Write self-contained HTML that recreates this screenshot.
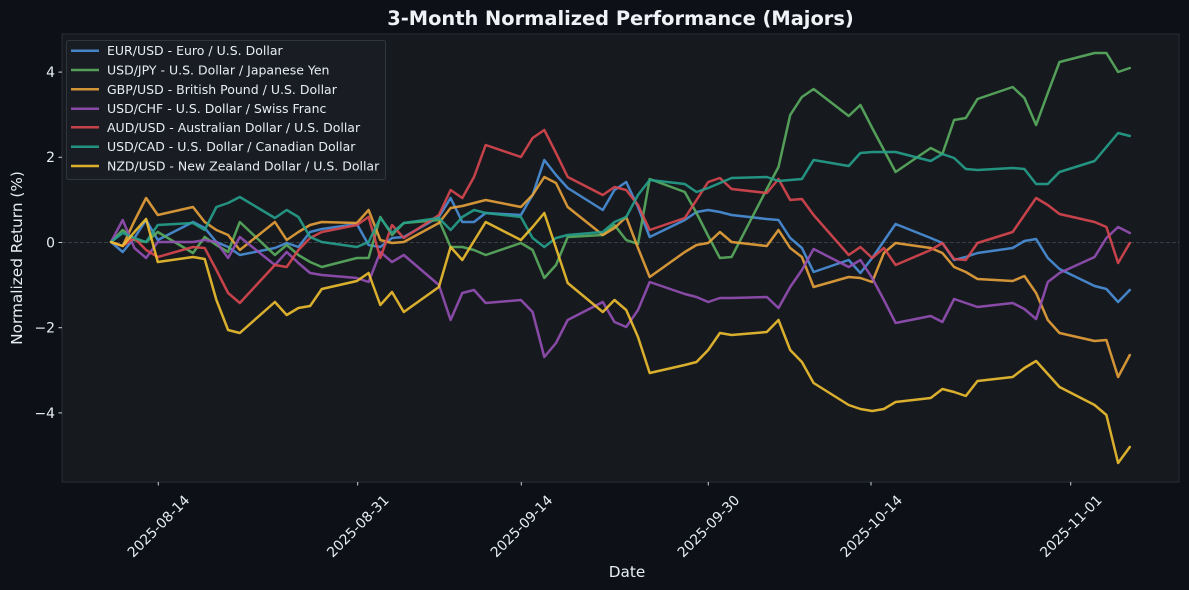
<!DOCTYPE html>
<html>
<head>
<meta charset="utf-8">
<style>
  html, body { margin:0; padding:0; background:#0d1117; }
  body { width:1189px; height:590px; overflow:hidden; }
  svg { display:block; }
  text { font-family: "DejaVu Sans", "Liberation Sans", sans-serif; }
</style>
</head>
<body>
<svg width="1189" height="590" viewBox="0 0 1189 590" xmlns="http://www.w3.org/2000/svg">
  <rect x="0" y="0" width="1189" height="590" fill="#0d1117"/>
  <!-- plot area -->
  <rect x="62" y="34" width="1117" height="448" fill="#161a1f" stroke="#2a2f36" stroke-width="1"/>

  <!-- title -->
  <text x="620.5" y="25" text-anchor="middle" font-size="19.4" font-weight="bold" fill="#f0f3f6">3-Month Normalized Performance (Majors)</text>

  <!-- zero line -->
  <line x1="62" y1="242.5" x2="1179" y2="242.5" stroke="#8b949e" stroke-opacity="0.3" stroke-width="1" stroke-dasharray="4,2"/>

  <!-- y ticks -->
  <g stroke="#c9d1d9" stroke-width="1">
    <line x1="58.5" y1="72.1" x2="62" y2="72.1"/>
    <line x1="58.5" y1="157.3" x2="62" y2="157.3"/>
    <line x1="58.5" y1="242.5" x2="62" y2="242.5"/>
    <line x1="58.5" y1="327.7" x2="62" y2="327.7"/>
    <line x1="58.5" y1="412.9" x2="62" y2="412.9"/>
  </g>
  <g font-size="13.9" fill="#e6edf3" text-anchor="end">
    <text x="55" y="77">4</text>
    <text x="55" y="162.2">2</text>
    <text x="55" y="247.4">0</text>
    <text x="55" y="332.6">−2</text>
    <text x="55" y="417.8">−4</text>
  </g>

  <!-- x ticks -->
  <g stroke="#c9d1d9" stroke-width="1">
    <line x1="158.3" y1="482" x2="158.3" y2="485.5"/>
    <line x1="357.7" y1="482" x2="357.7" y2="485.5"/>
    <line x1="521.3" y1="482" x2="521.3" y2="485.5"/>
    <line x1="708.3" y1="482" x2="708.3" y2="485.5"/>
    <line x1="871" y1="482" x2="871" y2="485.5"/>
    <line x1="1070.7" y1="482" x2="1070.7" y2="485.5"/>
  </g>
  <g font-size="13.9" fill="#e6edf3" text-anchor="middle">
    <text x="158.3" y="531" transform="rotate(-45 158.3 526)">2025-08-14</text>
    <text x="357.7" y="531" transform="rotate(-45 357.7 526)">2025-08-31</text>
    <text x="521.3" y="531" transform="rotate(-45 521.3 526)">2025-09-14</text>
    <text x="708.3" y="531" transform="rotate(-45 708.3 526)">2025-09-30</text>
    <text x="871" y="531" transform="rotate(-45 871 526)">2025-10-14</text>
    <text x="1070.7" y="531" transform="rotate(-45 1070.7 526)">2025-11-01</text>
  </g>

  <!-- axis labels -->
  <text x="627" y="577" text-anchor="middle" font-size="15.3" fill="#e6edf3">Date</text>
  <text x="22" y="258" text-anchor="middle" font-size="15.3" fill="#e6edf3" transform="rotate(-90 22 258)">Normalized Return (%)</text>

  <!-- series -->
  <g fill="none" stroke-width="2.5" stroke-linejoin="round" stroke-linecap="round" stroke-opacity="0.9">
    <polyline stroke="#4a90d9" points="111,242 122.7,252 134.4,238 146.1,220 157.8,240 193,222 204.7,228 216.4,242 228.1,247 239.8,255 274.9,248 286.7,243 298.4,247 310.1,232 321.8,229 356.9,224 368.6,245 380.3,247 392,238 403.8,237 438.9,217 450.6,198 462.3,222 474,222 485.7,213 520.9,215 532.6,195 544.3,160 556,175 567.7,188 602.8,210 614.5,190 626.2,182 638,207 649.7,237 684.8,220 696.5,212 708.2,210 719.9,212 731.6,215 766.8,219 778.5,220 790.2,238 801.9,248 813.6,272 848.7,260 860.4,273 872.2,258 883.9,241 895.6,224 930.7,238 942.4,243 954.1,260 965.8,257 977.5,253 1012.7,248 1024.4,241 1036.1,239 1047.8,258 1059.5,269 1094.6,286 1106.4,289 1118.1,302 1129.8,290"/>
    <polyline stroke="#5aad5e" points="111,242 122.7,230 134.4,240 146.1,242 157.8,232 193,253 204.7,237 216.4,245 228.1,252 239.8,222 274.9,255 286.7,245 298.4,255 310.1,262 321.8,267 356.9,258 368.6,258 380.3,217 392,235 403.8,223 438.9,220 450.6,247 462.3,247 474,250 485.7,255 520.9,243 532.6,250 544.3,278 556,265 567.7,237 602.8,235 614.5,225 626.2,240 638,244 649.7,179 684.8,192 696.5,213 708.2,236 719.9,258 731.6,257 766.8,189 778.5,167 790.2,115 801.9,97 813.6,89 848.7,116 860.4,105 872.2,128 883.9,150 895.6,172 930.7,148 942.4,154 954.1,120 965.8,118 977.5,99 1012.7,87 1024.4,98 1036.1,125 1047.8,93 1059.5,62 1094.6,53 1106.4,53 1118.1,72 1129.8,68"/>
    <polyline stroke="#e8a23a" points="111,242 122.7,246 134.4,221 146.1,198 157.8,215 193,207 204.7,222 216.4,230 228.1,235 239.8,250 274.9,222 286.7,240 298.4,232 310.1,225 321.8,222 356.9,223 368.6,210 380.3,240 392,243 403.8,242 438.9,223 450.6,208 462.3,206 474,203 485.7,200 520.9,207 532.6,195 544.3,177 556,183 567.7,207 602.8,235 614.5,228 626.2,217 638,248 649.7,277 684.8,252 696.5,245 708.2,243 719.9,232 731.6,242 766.8,246 778.5,230 790.2,248 801.9,257 813.6,287 848.7,277 860.4,278 872.2,282 883.9,253 895.6,243 930.7,248 942.4,253 954.1,267 965.8,272 977.5,279 1012.7,281 1024.4,276 1036.1,293 1047.8,320 1059.5,333 1094.6,341 1106.4,340 1118.1,377 1129.8,355"/>
    <polyline stroke="#9550b5" points="111,242 122.7,220 134.4,248 146.1,258 157.8,242 193,242 204.7,240 216.4,242 228.1,258 239.8,237 274.9,265 286.7,252 298.4,263 310.1,273 321.8,275 356.9,278 368.6,282 380.3,252 392,262 403.8,255 438.9,285 450.6,320 462.3,293 474,290 485.7,303 520.9,300 532.6,312 544.3,357 556,343 567.7,320 602.8,302 614.5,322 626.2,327 638,310 649.7,282 684.8,294 696.5,297 708.2,302 719.9,298 731.6,298 766.8,297 778.5,308 790.2,287 801.9,270 813.6,249 848.7,267 860.4,260 872.2,278 883.9,300 895.6,323 930.7,316 942.4,322 954.1,299 965.8,303 977.5,307 1012.7,303 1024.4,309 1036.1,319 1047.8,282 1059.5,273 1094.6,257 1106.4,238 1118.1,227 1129.8,233"/>
    <polyline stroke="#d9474f" points="111,242 122.7,246 134.4,238 146.1,250 157.8,257 193,247 204.7,248 216.4,270 228.1,293 239.8,303 274.9,265 286.7,267 298.4,250 310.1,238 321.8,232 356.9,225 368.6,217 380.3,258 392,225 403.8,238 438.9,215 450.6,190 462.3,198 474,177 485.7,145 520.9,157 532.6,138 544.3,130 556,153 567.7,177 602.8,195 614.5,187 626.2,190 638,205 649.7,230 684.8,218 696.5,200 708.2,182 719.9,178 731.6,189 766.8,193 778.5,179 790.2,200 801.9,199 813.6,215 848.7,255 860.4,247 872.2,258 883.9,248 895.6,265 930.7,250 942.4,243 954.1,259 965.8,260 977.5,243 1012.7,232 1024.4,215 1036.1,198 1047.8,205 1059.5,214 1094.6,222 1106.4,227 1118.1,263 1129.8,243"/>
    <polyline stroke="#26a08c" points="111,242 122.7,233 134.4,238 146.1,242 157.8,225 193,223 204.7,230 216.4,207 228.1,203 239.8,197 274.9,218 286.7,210 298.4,217 310.1,237 321.8,242 356.9,247 368.6,242 380.3,218 392,233 403.8,223 438.9,218 450.6,230 462.3,217 474,210 485.7,213 520.9,217 532.6,238 544.3,247 556,238 567.7,235 602.8,232 614.5,222 626.2,217 638,195 649.7,180 684.8,184 696.5,192 708.2,188 719.9,183 731.6,178 766.8,177 778.5,181 790.2,180 801.9,179 813.6,160 848.7,166 860.4,153 872.2,152 883.9,152 895.6,152 930.7,161 942.4,154 954.1,158 965.8,169 977.5,170 1012.7,168 1024.4,169 1036.1,184 1047.8,184 1059.5,172 1094.6,161 1106.4,147 1118.1,133 1129.8,136"/>
    <polyline stroke="#f0c030" points="111,242 122.7,246 134.4,232 146.1,219 157.8,262 193,257 204.7,259 216.4,300 228.1,330 239.8,333 274.9,302 286.7,315 298.4,308 310.1,306 321.8,289 356.9,281 368.6,273 380.3,305 392,292 403.8,312 438.9,287 450.6,247 462.3,260 474,241 485.7,222 520.9,240 532.6,227 544.3,213 556,248 567.7,283 602.8,312 614.5,300 626.2,310 638,337 649.7,373 684.8,365 696.5,362 708.2,350 719.9,333 731.6,335 766.8,332 778.5,320 790.2,350 801.9,362 813.6,383 848.7,405 860.4,409 872.2,411 883.9,409 895.6,402 930.7,398 942.4,389 954.1,392 965.8,396 977.5,381 1012.7,377 1024.4,368 1036.1,361 1047.8,374 1059.5,387 1094.6,405 1106.4,415 1118.1,463 1129.8,447"/>
  </g>

  <!-- legend -->
  <rect x="66.5" y="40.5" width="319" height="139" rx="2" fill="#1a1e24" fill-opacity="0.9" stroke="#30363d" stroke-width="1"/>
  <g stroke-width="2.5" stroke-opacity="0.9">
    <line x1="71" y1="50.7" x2="99" y2="50.7" stroke="#4a90d9"/>
    <line x1="71" y1="70" x2="99" y2="70" stroke="#5aad5e"/>
    <line x1="71" y1="89.3" x2="99" y2="89.3" stroke="#e8a23a"/>
    <line x1="71" y1="108.7" x2="99" y2="108.7" stroke="#9550b5"/>
    <line x1="71" y1="127.3" x2="99" y2="127.3" stroke="#d9474f"/>
    <line x1="71" y1="146.7" x2="99" y2="146.7" stroke="#26a08c"/>
    <line x1="71" y1="166" x2="99" y2="166" stroke="#f0c030"/>
  </g>
  <g font-size="12.5" fill="#e6edf3">
    <text x="107" y="55.2">EUR/USD - Euro / U.S. Dollar</text>
    <text x="107" y="74.5">USD/JPY - U.S. Dollar / Japanese Yen</text>
    <text x="107" y="93.8">GBP/USD - British Pound / U.S. Dollar</text>
    <text x="107" y="113.2">USD/CHF - U.S. Dollar / Swiss Franc</text>
    <text x="107" y="131.8">AUD/USD - Australian Dollar / U.S. Dollar</text>
    <text x="107" y="151.2">USD/CAD - U.S. Dollar / Canadian Dollar</text>
    <text x="107" y="170.5">NZD/USD - New Zealand Dollar / U.S. Dollar</text>
  </g>
</svg>
</body>
</html>
